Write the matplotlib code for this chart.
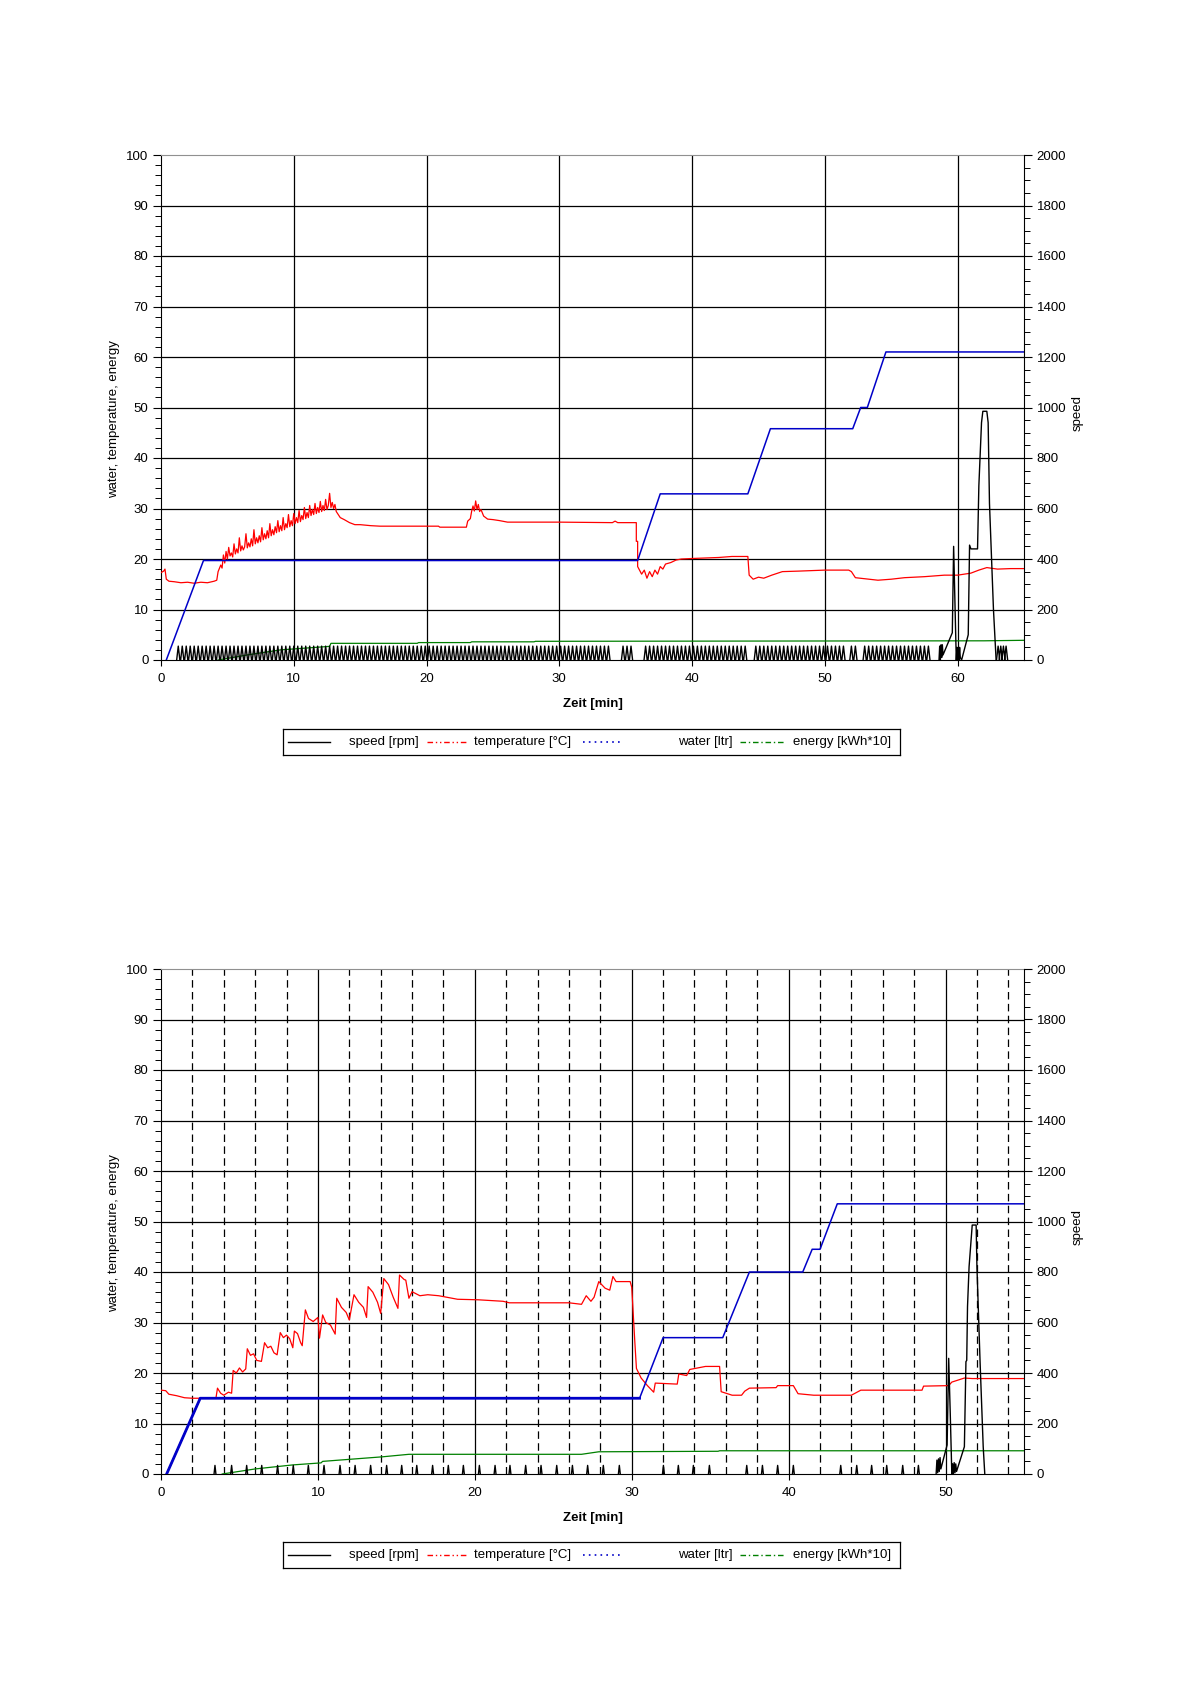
import numpy as np
import matplotlib.pyplot as plt
from matplotlib.lines import Line2D
from matplotlib.ticker import MultipleLocator

plt.rcParams['font.family'] = ['Liberation Sans', 'DejaVu Sans']
plt.rcParams['font.size'] = 9.5

W, H = 1190, 1684

# ---------------- top chart: 65 min programme ----------------
temp1 = [(0.0, 17.3), (0.2, 17.6), (0.3, 18.0), (0.4, 16.0), (0.6, 15.6), (1.0, 15.5),
         (1.5, 15.3), (2.0, 15.4), (2.5, 15.2), (3.0, 15.4), (3.5, 15.3), (4.0, 15.6),
         (4.2, 15.8), (4.3, 17.5), (4.5, 18.8), (4.6, 18.2),
         (4.7, 20.8), (4.8, 19.2), (4.9, 21.5), (5.0, 20.0), (5.1, 22.3), (5.2, 20.6),
         (5.3, 21.2), (5.4, 20.4), (5.5, 23.0), (5.6, 21.0), (5.7, 22.0), (5.8, 21.2),
         (5.9, 24.2), (6.0, 21.6), (6.1, 22.6), (6.2, 21.8), (6.3, 22.4), (6.4, 25.0),
         (6.5, 22.2), (6.6, 23.2), (6.7, 22.4), (6.8, 24.0), (6.9, 22.6), (7.0, 25.8),
         (7.1, 23.0), (7.2, 24.2), (7.3, 23.2), (7.4, 24.6), (7.5, 23.4), (7.6, 26.2),
         (7.7, 23.8), (7.8, 25.0), (7.9, 24.0), (8.0, 25.6), (8.1, 24.2), (8.2, 27.0),
         (8.3, 24.6), (8.4, 25.8), (8.5, 24.8), (8.6, 26.4), (8.7, 25.2), (8.8, 27.6),
         (8.9, 25.4), (9.0, 26.6), (9.1, 25.6), (9.2, 28.2), (9.3, 25.8), (9.4, 27.0),
         (9.5, 26.2), (9.6, 28.8), (9.7, 26.4), (9.8, 27.6), (9.9, 26.6), (10.0, 29.0),
         (10.1, 27.0), (10.2, 28.2), (10.3, 27.2), (10.4, 29.6), (10.5, 27.4), (10.6, 28.6),
         (10.7, 27.8), (10.8, 30.2), (10.9, 28.0), (11.0, 29.2), (11.1, 28.2), (11.2, 30.6),
         (11.3, 28.6), (11.4, 29.8), (11.5, 28.8), (11.6, 31.0), (11.7, 29.0), (11.8, 30.2),
         (11.9, 29.2), (12.0, 31.4), (12.1, 29.4), (12.2, 30.6), (12.3, 29.6), (12.4, 31.8),
         (12.5, 29.8), (12.6, 30.6), (12.7, 33.0), (12.8, 30.2), (12.9, 31.2), (13.0, 30.0),
         (13.1, 30.8), (13.2, 29.4), (13.5, 28.2), (13.8, 27.8), (14.2, 27.2), (14.6, 26.8),
         (15.0, 26.8), (15.8, 26.6), (16.5, 26.5), (20.9, 26.5), (21.0, 26.3), (23.0, 26.3),
         (23.1, 27.5), (23.3, 28.0), (23.4, 29.5), (23.5, 30.5), (23.6, 29.5), (23.7, 31.5),
         (23.8, 29.8), (23.9, 30.8), (24.0, 29.4), (24.1, 29.8), (24.3, 28.5), (24.6, 27.9),
         (25.0, 27.8), (25.5, 27.6), (26.1, 27.3), (30.0, 27.3), (34.0, 27.2), (34.2, 27.5),
         (34.4, 27.2), (35.8, 27.2), (35.8, 23.5), (35.9, 23.5), (35.9, 18.5), (36.0, 18.0),
         (36.2, 17.0), (36.4, 17.8), (36.6, 16.2), (36.8, 17.5), (37.0, 16.5), (37.2, 17.8),
         (37.4, 17.0), (37.6, 18.5), (37.8, 18.0), (38.0, 19.0), (38.4, 19.3), (38.8, 19.8),
         (39.2, 20.0), (40.0, 20.1), (42.0, 20.3), (43.0, 20.5), (44.2, 20.5), (44.3, 16.8),
         (44.6, 16.0), (45.0, 16.4), (45.4, 16.2), (46.0, 16.8), (46.8, 17.5), (48.0, 17.6),
         (50.0, 17.8), (51.8, 17.8), (52.0, 17.5), (52.3, 16.3), (53.0, 16.1), (54.0, 15.8),
         (55.0, 16.0), (56.0, 16.3), (57.5, 16.5), (59.0, 16.8), (60.0, 16.8), (61.0, 17.2),
         (61.6, 17.8), (62.2, 18.3), (63.0, 18.0), (64.0, 18.1), (65.0, 18.1)]

water1_t = [0.4, 3.2, 35.9, 37.6, 44.2, 45.9, 52.1, 52.7, 53.2, 54.6, 65.0]
water1_v = [0.0, 19.7, 19.7, 32.9, 32.9, 45.8, 45.8, 50.0, 50.0, 61.0, 61.0]

energy1_t = [4.3, 6.5, 9.0, 12.7, 12.8, 19.3, 19.4, 23.3, 23.4, 28.1, 28.2, 62.0, 65.0]
energy1_v = [0.0, 1.0, 2.0, 2.7, 3.3, 3.3, 3.45, 3.45, 3.6, 3.6, 3.7, 3.8, 3.9]

# drum reversing: spike times [min], spike height [rpm]
tumble1 = [1.3, 1.6, 1.9, 2.2, 2.5, 2.8, 3.1, 3.4, 3.7, 4.0,
           4.3, 4.6, 4.9, 5.2, 5.5, 5.8, 6.1, 6.4, 6.7, 7.0,
           7.3, 7.6, 7.9, 8.2, 8.5, 8.8, 9.1, 9.4, 9.7, 10.0,
           10.3, 10.6, 10.9, 11.2, 11.5, 11.8, 12.1, 12.4, 12.7, 13.0,
           13.3, 13.6, 13.9, 14.2, 14.5, 14.8, 15.1, 15.4, 15.7, 16.0,
           16.3, 16.6, 16.9, 17.2, 17.5, 17.8, 18.1, 18.4, 18.7, 19.0,
           19.3, 19.6, 19.9, 20.2, 20.5, 20.8, 21.1, 21.4, 21.7, 22.0,
           22.3, 22.6, 22.9, 23.2, 23.5, 23.8, 24.1, 24.4, 24.7, 25.0,
           25.3, 25.6, 25.9, 26.2, 26.5, 26.8, 27.1, 27.4, 27.7, 28.0,
           28.3, 28.6, 28.9, 29.2, 29.5, 29.8, 30.1, 30.4, 30.7, 31.0,
           31.3, 31.6, 31.9, 32.2, 32.5, 32.8, 33.1, 33.4, 33.7,
           34.8, 35.1, 35.4,
           36.5, 36.8, 37.1, 37.4, 37.7, 38.0, 38.3, 38.6, 38.9, 39.2,
           39.5, 39.8, 40.1, 40.4, 40.7, 41.0, 41.3, 41.6, 41.9, 42.2,
           42.5, 42.8, 43.1, 43.4, 43.7, 44.0, 44.8, 45.1, 45.4, 45.7,
           46.0, 46.3, 46.6, 46.9, 47.2, 47.5, 47.8, 48.1, 48.4, 48.7,
           49.0, 49.3, 49.6, 49.9, 50.2, 50.5, 50.8, 51.1, 51.4, 52.0,
           52.3, 53.0, 53.3, 53.6, 53.9, 54.2, 54.5, 54.8, 55.1, 55.4,
           55.7, 56.0, 56.3, 56.6, 56.9, 57.2, 57.5, 57.8,
           63.05, 63.25, 63.45, 63.65]
tumble1_h = 55

spin1 = [(58.6, 0), (58.65, 55), (58.7, 0), (58.75, 60), (58.8, 10), (58.85, 60),
         (58.9, 20), (59.6, 108), (59.7, 450), (59.9, 0), (59.95, 50), (60.0, 0),
         (60.05, 50), (60.1, 0), (60.15, 50), (60.2, 10), (60.3, 0), (60.8, 100),
         (60.9, 455), (61.0, 440), (61.5, 440), (61.6, 690), (61.8, 940), (61.9, 985),
         (62.2, 985), (62.3, 940), (62.4, 620), (62.7, 200), (62.9, 0)]

# ---------------- bottom chart: 55 min programme ----------------
temp2 = [(0.0, 16.6), (0.3, 16.5), (0.5, 15.8), (1.0, 15.5), (1.5, 15.1), (2.0, 15.0),
         (3.5, 15.0), (3.6, 17.0), (3.8, 16.0), (4.0, 15.6), (4.3, 16.2), (4.5, 16.0),
         (4.6, 20.5), (4.8, 20.0), (5.0, 21.0), (5.2, 20.2), (5.4, 20.8), (5.5, 24.8),
         (5.7, 23.5), (5.9, 23.8), (6.1, 22.5), (6.4, 22.3), (6.6, 26.0), (6.8, 25.0),
         (7.0, 25.3), (7.2, 24.0), (7.4, 23.6), (7.6, 28.0), (7.8, 27.0), (8.0, 27.5),
         (8.2, 26.8), (8.4, 25.0), (8.5, 28.3), (8.7, 27.8), (8.9, 26.0), (9.0, 25.4),
         (9.2, 32.5), (9.4, 30.8), (9.7, 30.2), (10.0, 31.0), (10.1, 26.9), (10.3, 31.5),
         (10.5, 30.0), (10.8, 29.5), (11.1, 27.7), (11.2, 34.8), (11.5, 33.0), (11.8, 32.0),
         (12.0, 30.5), (12.3, 35.5), (12.6, 34.0), (12.9, 33.0), (13.1, 31.0), (13.2, 37.1),
         (13.5, 36.0), (13.8, 34.0), (14.0, 31.8), (14.2, 38.7), (14.5, 37.5), (14.8, 35.0),
         (15.1, 32.8), (15.2, 39.4), (15.5, 38.5), (15.6, 38.4), (15.8, 34.8), (16.0, 36.1),
         (16.5, 35.3), (17.0, 35.5), (17.7, 35.3), (18.9, 34.6), (20.2, 34.5), (21.8, 34.2),
         (22.2, 33.9), (26.0, 33.9), (26.8, 33.6), (27.1, 35.3), (27.4, 34.2), (27.6, 35.0),
         (27.9, 38.1), (28.3, 36.8), (28.6, 36.4), (28.8, 39.1), (29.0, 38.1), (29.9, 38.1),
         (30.0, 37.0), (30.2, 26.0), (30.3, 20.9), (30.6, 19.0), (31.0, 17.5), (31.4, 16.2),
         (31.5, 18.0), (32.9, 17.8), (33.0, 19.8), (33.5, 19.5), (33.7, 20.7), (34.7, 21.3),
         (35.6, 21.3), (35.7, 16.3), (36.4, 15.6), (37.0, 15.6), (37.2, 16.4), (37.5, 17.0),
         (39.2, 17.1), (39.3, 17.5), (40.3, 17.5), (40.6, 15.9), (41.6, 15.6), (44.0, 15.6),
         (44.6, 16.6), (48.5, 16.6), (48.6, 17.4), (50.2, 17.5), (50.4, 18.2), (51.2, 19.0),
         (51.7, 18.9), (55.0, 18.9)]

water2_t = [0.36, 2.5, 30.5, 32.0, 35.8, 37.5, 40.9, 41.5, 42.0, 43.1, 55.0]
water2_v = [0.0, 15.0, 15.0, 27.0, 27.0, 40.0, 40.0, 44.5, 44.5, 53.5, 53.5]

energy2_t = [3.9, 6.0, 8.4, 10.2, 10.3, 14.1, 15.8, 26.8, 27.9, 35.5, 35.6, 55.0]
energy2_v = [0.0, 1.0, 1.8, 2.2, 2.5, 3.4, 3.9, 3.9, 4.4, 4.5, 4.6, 4.6]

tumble2 = [3.44, 4.50, 5.46, 6.42, 7.43, 8.43, 9.39, 10.39, 11.41, 12.37, 13.36,
           14.38, 15.34, 16.30, 17.31, 18.31, 19.27, 20.29, 21.29, 22.24, 23.24,
           24.22, 25.22, 26.22, 27.19, 28.19, 29.21, 32.02, 32.97, 33.93, 34.95,
           37.33, 38.33, 39.30, 40.30, 43.32, 44.34, 45.29, 46.25, 47.27, 48.27]
tumble2_h = 34

spin2 = [(49.40, 0), (49.45, 55), (49.50, 5), (49.55, 60), (49.60, 10), (49.65, 65),
         (49.70, 20), (50.10, 115), (50.20, 458), (50.30, 240), (50.40, 0), (50.45, 40),
         (50.50, 0), (50.55, 45), (50.60, 5), (50.65, 40), (50.70, 10), (51.20, 108),
         (51.30, 445), (51.35, 450), (51.40, 663), (51.50, 821), (51.70, 986),
         (51.95, 986), (52.00, 821), (52.20, 445), (52.40, 108), (52.50, 0)]

RED, BLUE, GREEN = '#ff0000', '#0000c8', '#008000'


def spikes(times, h, half):
	x, y = [], []
	for t in times:
		x += [t - half, t, t + half, np.nan]
		y += [0, h, 0, np.nan]
	return x, y


def setup(ax, xmax, dashed):
	ax.set_xlim(0, xmax)
	ax.set_ylim(0, 100)
	ax.xaxis.set_major_locator(MultipleLocator(10))
	ax.yaxis.set_major_locator(MultipleLocator(10))
	ax.yaxis.set_minor_locator(MultipleLocator(2))
	for v in range(10, 100, 10):
		ax.axhline(v, color='k', lw=0.9, zorder=1)
	for v in range(10, xmax, 10):
		ax.axvline(v, color='k', lw=0.9, zorder=1)
	if dashed:
		for v in range(2, xmax, 2):
			if v % 10:
				ax.axvline(v, color='k', lw=0.9, dashes=(6, 3.5), zorder=1)
	ax.tick_params(axis='y', which='major', length=6, width=0.8, pad=3)
	ax.tick_params(axis='y', which='minor', length=4, width=0.7)
	ax.tick_params(axis='x', which='major', length=4, width=0.8, pad=5)
	ax.spines['top'].set_color('#909090')
	ax.spines['right'].set_visible(False)
	ax.set_ylabel('water, temperature, energy')
	ax.yaxis.set_label_coords(-0.047, 0.477)
	ax.set_xlabel('Zeit [min]', fontweight='bold')
	ax.xaxis.set_label_coords(0.5, -0.075)

	ax2 = ax.twinx()
	ax2.set_ylim(0, 2000)
	ax2.yaxis.set_major_locator(MultipleLocator(200))
	ax2.yaxis.set_minor_locator(MultipleLocator(50))
	ax2.tick_params(axis='y', which='major', length=6, width=0.8, pad=3)
	ax2.tick_params(axis='y', which='minor', length=4, width=0.7)
	for s in ('left', 'top', 'bottom'):
		ax2.spines[s].set_visible(False)
	ax2.set_ylabel('speed', rotation=90)
	ax2.yaxis.set_label_coords(1.055, 0.489)
	return ax2


def legend(fig, top):
	x0, x1, h = 282.5, 900, 26
	lg = fig.add_axes([x0 / W, 1 - (top + h) / H, (x1 - x0) / W, h / H])
	lg.set_xlim(x0, x1)
	lg.set_ylim(h, 0)
	lg.set_xticks([])
	lg.set_yticks([])
	for s in lg.spines.values():
		s.set_linewidth(0.9)
	y = h / 2
	lg.add_line(Line2D([288, 330], [y, y], color='k', lw=1))
	lg.add_line(Line2D([427, 467], [y, y], color=RED, lw=1, dashes=(4, 2, 1, 2, 1, 2)))
	lg.add_line(Line2D([583, 623], [y, y], color=BLUE, lw=1.2, dashes=(1, 2.5)))
	lg.add_line(Line2D([740, 784], [y, y], color=GREEN, lw=1, dashes=(4, 2, 1, 2)))
	for xt, txt in [(349, 'speed [rpm]'), (474, 'temperature [°C]'),
	                (678, 'water [ltr]'), (793, 'energy [kWh*10]')]:
		lg.text(xt, y, txt, va='center', ha='left')


def draw(fig, rect, xmax, dashed, temp, wt, wv, et, ev, tumble, th, half, spin,
         thick_start, leg_top):
	ax = fig.add_axes(rect)
	ax2 = setup(ax, xmax, dashed)
	tt, tv = zip(*temp)
	ax.plot(tt, tv, color=RED, lw=0.9, zorder=3)
	ax.plot(wt, wv, color=BLUE, lw=1.1, zorder=3)
	if thick_start:
		ax.plot(wt[:3], wv[:3], color=BLUE, lw=2.0, zorder=3)
	ax.plot(et, ev, color=GREEN, lw=0.9, zorder=3)
	sx, sy = spikes(tumble, th, half)
	ax2.plot(sx, sy, color='k', lw=1.0)
	st, sv = zip(*spin)
	ax2.plot(st, sv, color='k', lw=1.0)
	legend(fig, leg_top)


fig = plt.figure(figsize=(W / 100, H / 100), dpi=100)
draw(fig, [161 / W, 1 - 660 / H, 863 / W, 505 / H], 65, False, temp1,
     water1_t, water1_v, energy1_t, energy1_v, tumble1, tumble1_h, 0.12, spin1, False, 729)
draw(fig, [161 / W, 1 - 1474 / H, 863 / W, 505 / H], 55, True, temp2,
     water2_t, water2_v, energy2_t, energy2_v, tumble2, tumble2_h, 0.06, spin2, True, 1542)
fig.savefig('out.png', dpi=100)
